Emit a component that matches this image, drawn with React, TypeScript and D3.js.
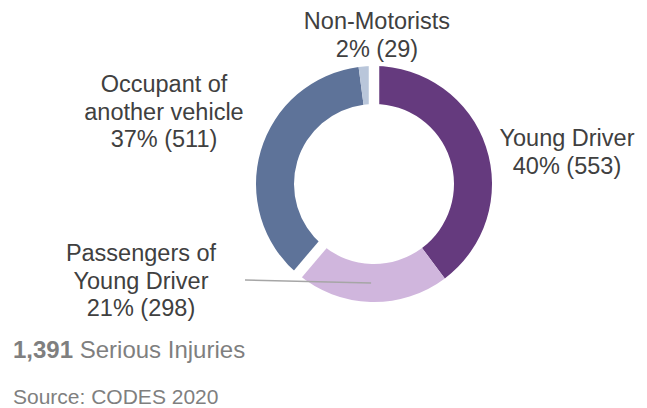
import React from "react";
import * as d3 from "d3";

// data
const categories = ["Young Driver", "Passengers of Young Driver", "Occupant of another vehicle", "Non-Motorists"];
const counts = [553, 298, 511, 29];
const percents = [40, 21, 37, 2];
const labelLines = [["Young Driver"], ["Passengers of", "Young Driver"], ["Occupant of", "another vehicle"], ["Non-Motorists"]];
const colors = ["#653a7e", "#d0b6dd", "#5e7399", "#b9c6da"];
// slices followed by a white gap
const gapAfter = ["Passengers of Young Driver", "Non-Motorists"];
const totalLabel = "1,391";
const totalText = " Serious Injuries";
const sourceText = "Source: CODES 2020";

const W = 647;
const H = 408;
const cx = 374;
const cy = 184;
const outerR = 118;
const innerR = 80;
const font = "'Liberation Sans', Arial, sans-serif";
const lineH = 27.6;

// label anchors (center x, first baseline)
const labelPos: Record<string, { x: number; y: number }> = {
  "Young Driver": { x: 567, y: 146 },
  "Passengers of Young Driver": { x: 141, y: 261 },
  "Occupant of another vehicle": { x: 164, y: 92 },
  "Non-Motorists": { x: 377, y: 29 },
};
const leaderFrom = { x: 245, y: 280 };

const App = () => {
  const rows = categories.map((c, i) => ({ name: c, value: counts[i], pct: percents[i], lines: labelLines[i], color: colors[i] }));
  const pie = d3.pie<any>().sort(null).value((d) => d.value);
  const arcs = pie(rows);
  const arc = d3.arc<any>().innerRadius(innerR).outerRadius(outerR);

  const passenger = arcs[1];
  const [pcx, pcy] = arc.centroid(passenger);

  return (
    <svg width={W} height={H} style={{ position: "absolute", left: 0, top: 0, background: "#fff" }} fontFamily={font}>
      <g transform={`translate(${cx},${cy})`}>
        {arcs.map((a) => (
          <path key={a.data.name} d={arc(a) as string} fill={a.data.color} />
        ))}
        {arcs
          .filter((a) => gapAfter.includes(a.data.name))
          .map((a) => {
            const [x1, y1] = d3.pointRadial(a.endAngle, innerR - 3);
            const [x2, y2] = d3.pointRadial(a.endAngle, outerR + 3);
            return <line key={"gap" + a.data.name} x1={x1} y1={y1} x2={x2} y2={y2} stroke="#fff" strokeWidth={10.5} />;
          })}
        <line x1={leaderFrom.x - cx} y1={leaderFrom.y - cy} x2={pcx} y2={pcy} stroke="#a6a6a6" strokeWidth={1.5} />
      </g>
      {rows.map((r) => {
        const p = labelPos[r.name];
        const lines = [...r.lines, `${r.pct}% (${r.value})`];
        return (
          <text key={r.name} x={p.x} y={p.y} textAnchor="middle" fontSize={23.5} fill="#404040">
            {lines.map((t, i) => (
              <tspan key={i} x={p.x} dy={i === 0 ? 0 : lineH}>
                {t}
              </tspan>
            ))}
          </text>
        );
      })}
      <text x={13} y={358} fontSize={24} fill="#7f7f7f">
        <tspan fontWeight="bold">{totalLabel}</tspan>
        <tspan>{totalText}</tspan>
      </text>
      <text x={13} y={403.5} fontSize={21} fill="#7f7f7f">
        {sourceText}
      </text>
    </svg>
  );
};

export default App;
